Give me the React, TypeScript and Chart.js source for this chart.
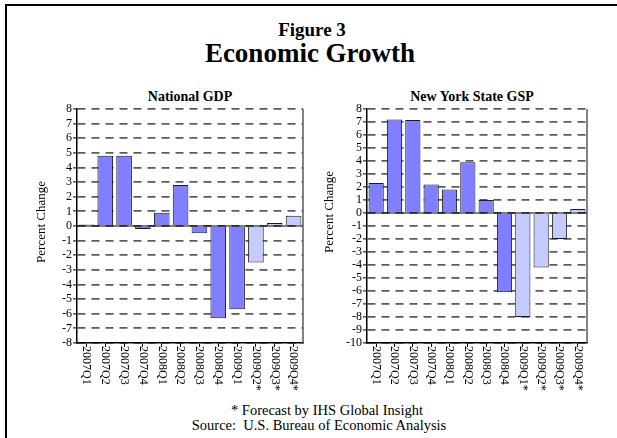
import React, { useEffect, useRef } from "react";
import { Chart, registerables } from "chart.js";

Chart.register(...registerables);

// ---------- data ----------
const categoriesUS = ["2007Q1", "2007Q2", "2007Q3", "2007Q4", "2008Q1", "2008Q2", "2008Q3", "2008Q4", "2009Q1", "2009Q2*", "2009Q3*", "2009Q4*"];
const valuesUS = [0.1, 4.8, 4.8, -0.2, 0.9, 2.8, -0.5, -6.3, -5.7, -2.5, 0.2, 0.7];
const forecastUS = [false, false, false, false, false, false, false, false, false, true, true, true];
const yRangeUS = [-8, 8];

const categoriesNY = ["2007Q1", "2007Q2", "2007Q3", "2007Q4", "2008Q1", "2008Q2", "2008Q3", "2008Q4", "2009Q1*", "2009Q2*", "2009Q3*", "2009Q4*"];
const valuesNY = [2.3, 7.2, 7.15, 2.2, 1.8, 3.9, 1.0, -6.1, -8.0, -4.2, -2.0, 0.3];
const forecastNY = [false, false, false, false, false, false, false, false, true, true, true, true];
const yRangeNY = [-10, 8];

const ACTUAL = "#8080ff";
const FORECAST = "#c3cbff";
const SERIF = "'Liberation Serif', 'Times New Roman', serif";

const decorPlugin = {
  id: "decor",
  afterDatasetsDraw(chart: any, _args: any, opts: any) {
    const { ctx, chartArea, scales } = chart;
    const x = scales.x;
    const y = scales.y;
    ctx.save();
    // zero line
    const y0 = y.getPixelForValue(0);
    ctx.strokeStyle = "#000";
    ctx.lineWidth = 1;
    ctx.beginPath();
    ctx.moveTo(chartArea.left, y0);
    ctx.lineTo(chartArea.right, y0);
    ctx.stroke();
    // right frame line
    ctx.strokeStyle = "#5a5a5a";
    ctx.lineWidth = 1.5;
    ctx.beginPath();
    ctx.moveTo(chartArea.right, chartArea.top);
    ctx.lineTo(chartArea.right, chartArea.bottom);
    ctx.stroke();
    // rotated category labels (top to bottom)
    ctx.fillStyle = "#000";
    ctx.font = `12px ${SERIF}`;
    ctx.textAlign = "left";
    ctx.textBaseline = "middle";
    (chart.data.labels as string[]).forEach((lab, i) => {
      const px = x.getPixelForValue(i);
      ctx.save();
      ctx.translate(px, chartArea.bottom + 3);
      ctx.rotate(Math.PI / 2);
      ctx.fillText(lab, 0, 0);
      ctx.restore();
    });
    // y axis title
    ctx.save();
    ctx.font = `13px ${SERIF}`;
    ctx.textAlign = "center";
    ctx.textBaseline = "middle";
    ctx.translate(chartArea.left - opts.titleOffset, (chartArea.top + chartArea.bottom) / 2 + (opts.titleShift || 0));
    ctx.rotate(-Math.PI / 2);
    ctx.fillText("Percent Change", 0, 0);
    ctx.restore();
    ctx.restore();
  },
};

type PanelProps = {
  labels: string[];
  values: number[];
  forecast: boolean[];
  range: number[];
  width: number;
  height: number;
  padRight: number;
  padTop: number;
  axisWidth: number;
  axisHeight: number;
  titleOffset: number;
  titleShift: number;
};

function Panel(p: PanelProps) {
  const ref = useRef<HTMLCanvasElement>(null);
  useEffect(() => {
    if (!ref.current) return;
    const chart = new Chart(ref.current, {
      type: "bar",
      data: {
        labels: p.labels,
        datasets: [
          {
            data: p.values,
            backgroundColor: p.forecast.map((f) => (f ? FORECAST : ACTUAL)),
            borderColor: "#1a1a1a",
            borderWidth: 1,
            barPercentage: 0.83,
            categoryPercentage: 1,
          },
        ],
      },
      options: {
        animation: false,
        responsive: false,
        maintainAspectRatio: false,
        devicePixelRatio: 1,
        layout: { padding: { top: p.padTop, right: p.padRight, left: 0, bottom: 0 } },
        plugins: {
          legend: { display: false },
          tooltip: { enabled: false },
          title: { display: false },
          decor: { titleOffset: p.titleOffset, titleShift: p.titleShift },
        } as any,
        scales: {
          x: {
            afterFit: (s: any) => {
              s.height = p.axisHeight;
            },
            grid: {
              display: true,
              drawOnChartArea: false,
              drawTicks: true,
              tickLength: 4,
              offset: false,
              tickColor: "#000",
              tickWidth: 1,
            },
            border: { display: true, color: "#000", width: 1.5 },
            ticks: { display: false },
          },
          y: {
            min: p.range[0],
            max: p.range[1],
            afterFit: (s: any) => {
              s.width = p.axisWidth;
            },
            grid: {
              color: "#5c5c5c",
              lineWidth: 1.8,
              drawTicks: true,
              tickLength: 4,
              tickColor: "#000",
              tickWidth: 1,
            },
            border: { display: true, color: "#000", width: 1.5, dash: [8, 6] },
            ticks: {
              stepSize: 1,
              autoSkip: false,
              padding: 1,
              color: "#000",
              font: { family: SERIF, size: 12, lineHeight: 1 },
            },
          },
        },
      },
      plugins: [decorPlugin],
    });
    return () => chart.destroy();
  }, []);
  return <canvas ref={ref} width={p.width} height={p.height} style={{ width: p.width, height: p.height, display: "block" }} />;
}

export default function App() {
  const text = (extra: React.CSSProperties): React.CSSProperties => ({
    position: "absolute",
    fontFamily: SERIF,
    color: "#000",
    whiteSpace: "pre",
    textAlign: "center",
    ...extra,
  });
  return (
    <div style={{ position: "absolute", left: 0, top: 0, width: 617, height: 438, overflow: "hidden", background: "#fff" }}>
      <div style={{ position: "absolute", left: 5, top: 4, width: 800, height: 600, border: "2px solid #000", boxSizing: "border-box" }} />
      <div style={text({ left: 212, width: 200, top: 20, fontSize: 19, lineHeight: "19px", fontWeight: "bold" })}>Figure 3</div>
      <div style={text({ left: 160, width: 300, top: 40, fontSize: 27, lineHeight: "27px", fontWeight: "bold" })}>Economic Growth</div>
      <div style={text({ left: 90, width: 200, top: 90, fontSize: 14, lineHeight: "14px", fontWeight: "bold" })}>National GDP</div>
      <div style={text({ left: 372, width: 200, top: 90, fontSize: 14, lineHeight: "14px", fontWeight: "bold" })}>New York State GSP</div>
      <div style={{ position: "absolute", left: 0, top: 100 }}>
        <Panel
          labels={categoriesUS}
          values={valuesUS}
          forecast={forecastUS}
          range={yRangeUS}
          width={310}
          height={300}
          padRight={7}
          padTop={9}
          axisWidth={77}
          axisHeight={57}
          titleOffset={35}
          titleShift={-4}
        />
      </div>
      <div style={{ position: "absolute", left: 310, top: 100 }}>
        <Panel
          labels={categoriesNY}
          values={valuesNY}
          forecast={forecastNY}
          range={yRangeNY}
          width={300}
          height={300}
          padRight={23}
          padTop={9}
          axisWidth={57}
          axisHeight={57}
          titleOffset={37}
          titleShift={-14}
        />
      </div>
      <div style={text({ left: 177, width: 300, top: 403, fontSize: 14.5, lineHeight: "14.5px" })}>* Forecast by IHS Global Insight</div>
      <div style={text({ left: 169, width: 300, top: 418, fontSize: 14.5, lineHeight: "14.5px" })}>Source:  U.S. Bureau of Economic Analysis</div>
    </div>
  );
}
